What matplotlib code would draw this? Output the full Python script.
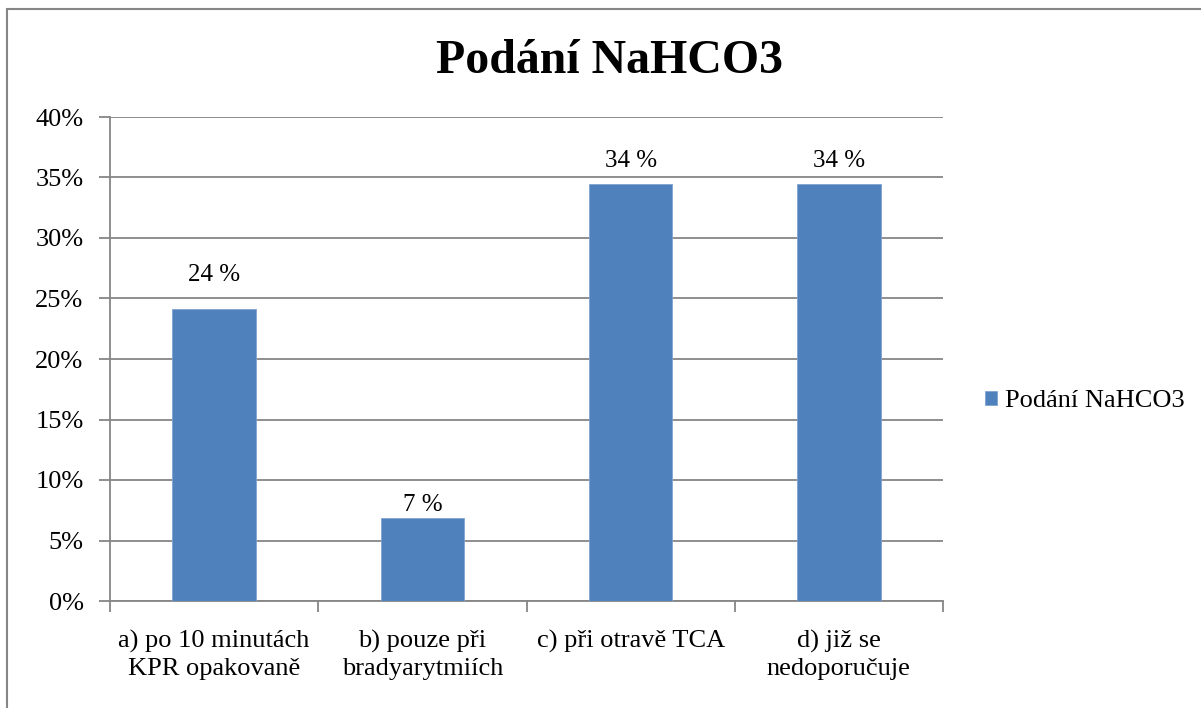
import numpy as np
import matplotlib.pyplot as plt
from matplotlib.patches import Rectangle
from matplotlib.ticker import PercentFormatter

# data
categories = ['a) po 10 minutách\nKPR opakovaně', 'b) pouze při\nbradyarytmiích',
              'c) při otravě TCA', 'd) již se\nnedoporučuje']
values = [24.1, 6.9, 34.5, 34.5]
labels = ['24 %', '7 %', '34 %', '34 %']
series_name = 'Podání NaHCO3'

# label baseline offsets above the bars (as placed in the original)
label_dy = [2.35, 0.55, 1.4, 1.4]

plt.rcParams['font.family'] = ['Liberation Serif', 'DejaVu Serif']

W, H = 1201, 708
fig = plt.figure(figsize=(W / 100, H / 100), dpi=100)
ax = fig.add_axes([110 / W, 1 - 601 / H, (943 - 110) / W, (601 - 117) / H])

grey = '#868686'
x = np.arange(len(categories))
bars = ax.bar(x, values, width=0.4, color='#4F81BD', edgecolor='#7FA3D0',
              linewidth=0.6, label=series_name, zorder=3)
for b, t, dy in zip(bars, labels, label_dy):
    ax.text(b.get_x() + b.get_width() / 2, b.get_height() + dy, t,
            ha='center', va='baseline', fontsize=18)

ax.set_xlim(-0.5, len(categories) - 0.5)
ax.set_ylim(0, 40)
ax.set_yticks(np.arange(0, 41, 5))
ax.yaxis.set_major_formatter(PercentFormatter(decimals=0))
ax.yaxis.grid(True, color=grey, linewidth=1.3, zorder=0)
ax.set_axisbelow(True)

ax.set_xticks(np.arange(-0.5, len(categories)), minor=False)
ax.set_xticklabels([''] * (len(categories) + 1))
ax.set_xticks(x, minor=True)
ax.set_xticklabels(categories, minor=True, fontsize=19, linespacing=1.25)
ax.tick_params(axis='x', which='minor', length=0, pad=21)
ax.tick_params(axis='x', which='major', length=8, color=grey, width=1.3)
ax.tick_params(axis='y', length=8, color=grey, width=1.3, labelsize=19, pad=11)

for s in ['top', 'right']:
    ax.spines[s].set_visible(False)
for s in ['left', 'bottom']:
    ax.spines[s].set_color(grey)
    ax.spines[s].set_linewidth(1.3)

fig.text(609 / W, 1 - 73 / H, series_name, ha='center', va='baseline',
         fontsize=34.5, fontweight='bold')

ax.legend(loc='center left', bbox_to_anchor=(985 / W, 1 - 401 / H),
          bbox_transform=fig.transFigure, frameon=False, fontsize=19,
          borderpad=0, borderaxespad=0,
          handlelength=0.45, handleheight=0.45, handletextpad=0.3)

fig.patches.append(Rectangle((7 / W, -0.1), 1.1, 1 - 9 / H + 0.1,
                             transform=fig.transFigure, fill=False,
                             edgecolor=grey, linewidth=1.5))

plt.savefig('out.png', dpi=100)
